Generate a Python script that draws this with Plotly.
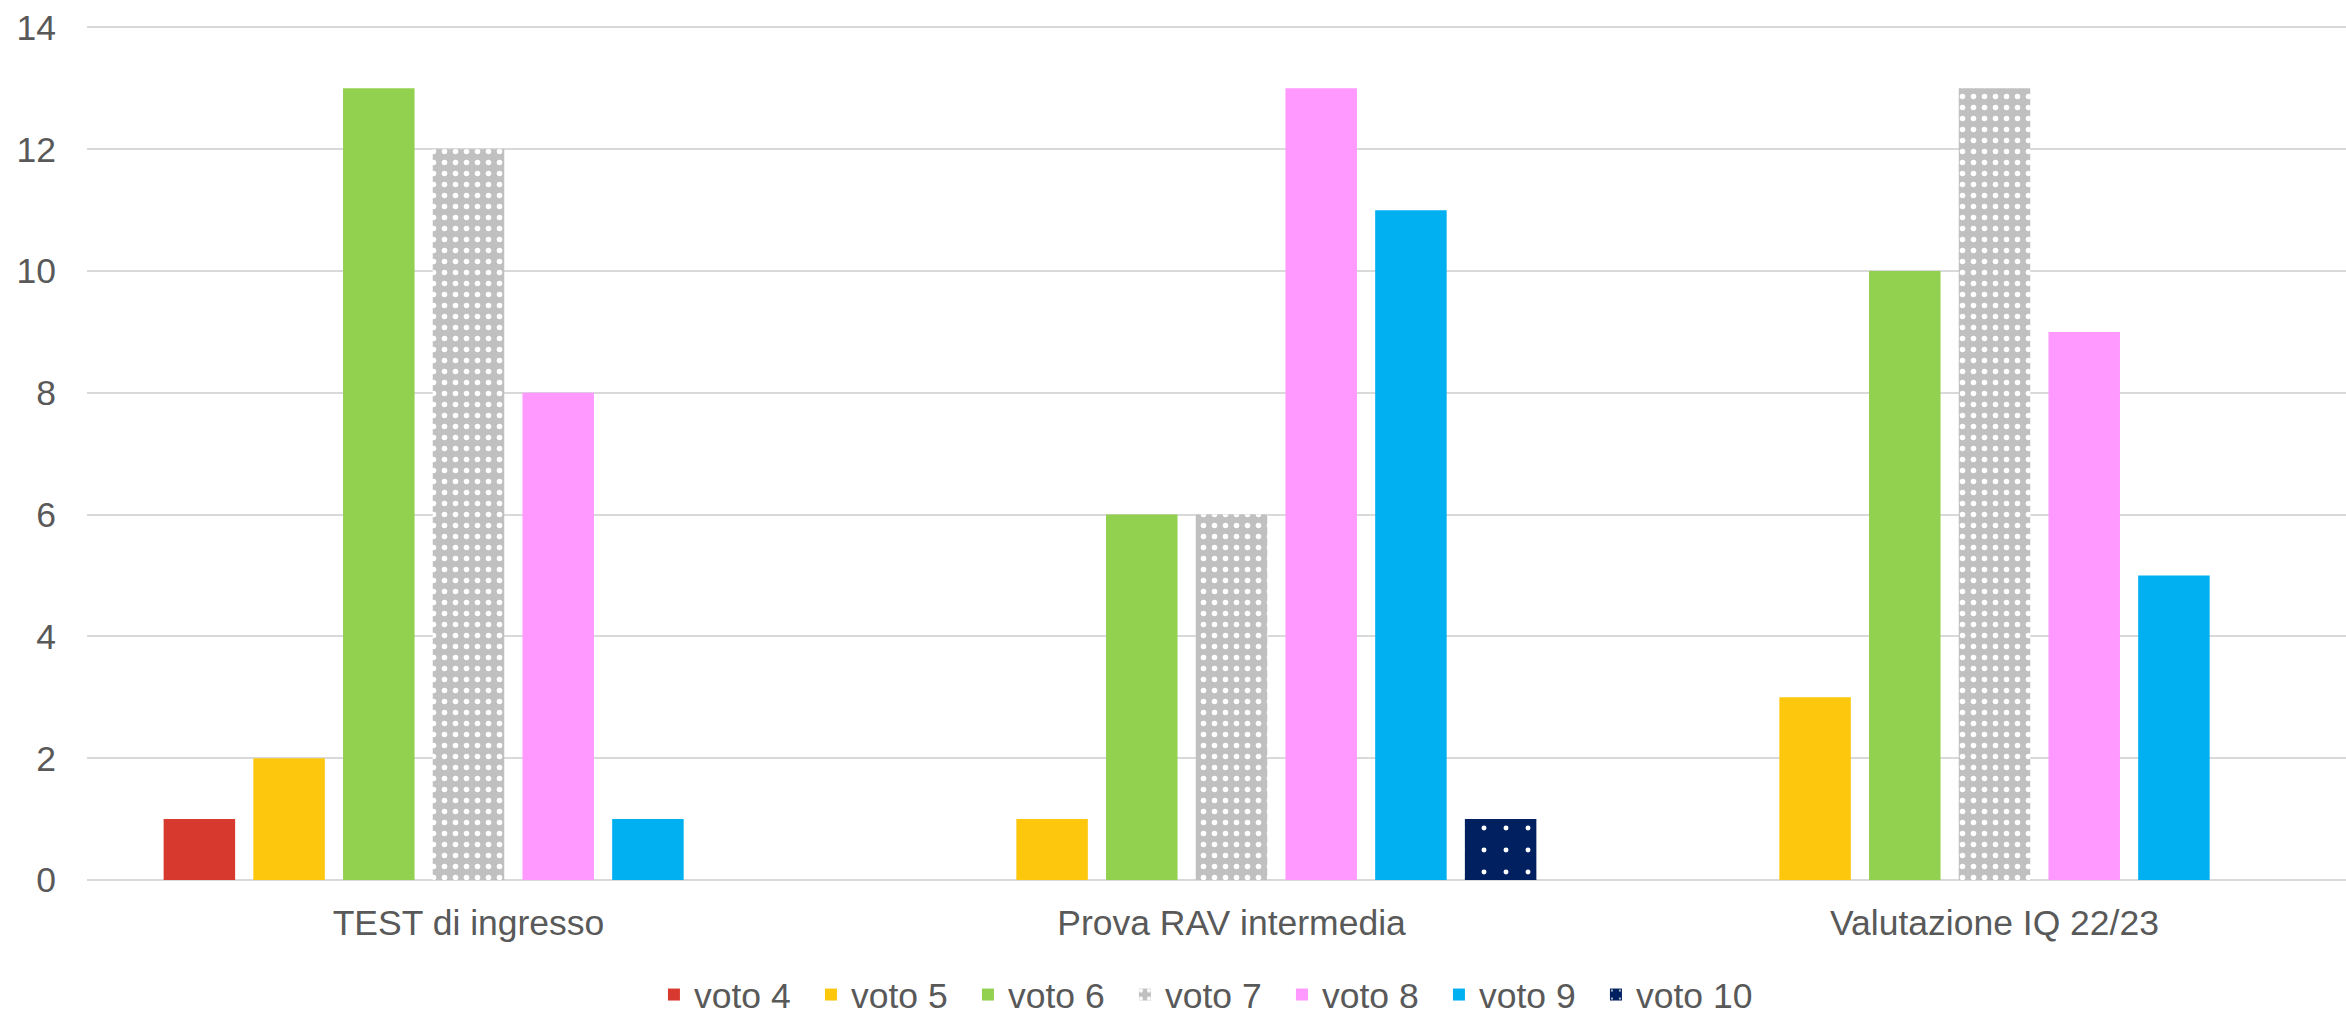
import plotly.graph_objects as go

categories = ["TEST di ingresso", "Prova RAV intermedia", "Valutazione IQ 22/23"]
series_names = ["voto 4", "voto 5", "voto 6", "voto 7", "voto 8", "voto 9", "voto 10"]
voto4 = [1, None, None]
voto5 = [2, 1, 3]
voto6 = [13, 6, 10]
voto7 = [12, 6, 13]
voto8 = [8, 13, 9]
voto9 = [1, 11, 5]
voto10 = [None, 1, None]
y_ticks = [0, 2, 4, 6, 8, 10, 12, 14]

values = [voto4, voto5, voto6, voto7, voto8, voto9, voto10]
colors = ["#D8392F", "#FDC70E", "#92D050", "#C0C0C0", "#FF99FF", "#00B0F0", "#002060"]
patterns = [None, None, None,
            dict(shape=".", bgcolor="#C0C0C0", fgcolor="#FFFFFF", size=11, solidity=0.2, fillmode="replace"),
            None, None,
            dict(shape=".", bgcolor="#002060", fgcolor="#FFFFFF", size=22, solidity=0.04, fillmode="replace")]

fig = go.Figure()
for name, vals, col, pat in zip(series_names, values, colors, patterns):
    marker = dict(color=col, line=dict(width=0))
    if pat:
        marker["pattern"] = pat
    fig.add_trace(go.Bar(name=name, x=categories, y=vals, marker=marker))

font_family = "Liberation Sans, Arial, sans-serif"
fs = 35.5
# the reference's plot area runs past the right edge of the picture
fig.update_layout(
    width=2376, height=1016, autosize=False,
    barmode="group", bargap=0.177, bargroupgap=0.203,
    plot_bgcolor="white", paper_bgcolor="white",
    margin=dict(l=87, r=0, t=25, b=136, pad=0),
    font=dict(family=font_family, size=fs, color="#595959"),
    legend=dict(orientation="h", x=0.5065, xanchor="center", xref="container",
                y=0.0207, yanchor="middle", yref="container",
                font=dict(size=fs, color="#595959"), itemwidth=30,
                entrywidth=112, entrywidthmode="pixels"),
    showlegend=True,
)
fig.update_yaxes(range=[0, 14.04], tickvals=y_ticks, showgrid=True, gridcolor="#D9D9D9", gridwidth=2,
                 zeroline=True, zerolinecolor="#D9D9D9", zerolinewidth=2, automargin=False,
                 showline=False, ticks="", ticklabelstandoff=30, ticklabeloverflow="allow",
                 tickfont=dict(size=fs, color="#595959"))
fig.update_xaxes(showline=False, ticks="", showgrid=False, ticklabelstandoff=18, automargin=False,
                 ticklabeloverflow="allow",
                 tickfont=dict(size=fs, color="#595959"))

fig.write_html("out.html", config={"displayModeBar": False},
               post_script="document.body.style.margin='0';document.body.style.overflow='hidden';")
